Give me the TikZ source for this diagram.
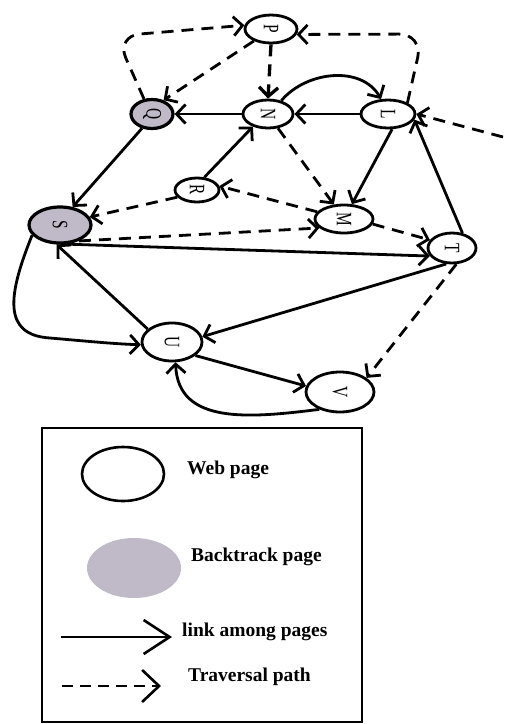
\documentclass[tikz,border=0pt]{standalone}
\usepackage{fontspec}
\setmainfont{Liberation Serif}
\usetikzlibrary{shapes.geometric,arrows.meta}
\definecolor{bkgray}{RGB}{192,186,200}
% page letters are set sideways
\newcommand{\vlab}[1]{\rotatebox{-90}{\scalebox{0.7}[1]{\fontsize{22}{22}\selectfont #1}}}
\tikzset{
  page/.style={ellipse, draw, line width=2.8pt, fill=white, inner sep=0pt},
  backpage/.style={page, fill=bkgray, line width=3.2pt},
  link/.style={line width=2.8pt, -{Straight Barb[length=9pt,width=19pt]}},
  trav/.style={link, dash pattern=on 12pt off 8pt},
  legtext/.style={anchor=west, inner sep=0pt, font=\fontsize{19.5}{22}\selectfont\bfseries}
}
\begin{document}
\begin{tikzpicture}[x=1pt,y=1pt]
\useasboundingbox (0,0) rectangle (505,-724);

% pages
\node[page, minimum width=52, minimum height=28] (P) at (271,-29) {\vlab{P}};
\node[page, minimum width=50, minimum height=28] (N) at (268,-114) {\vlab{N}};
\node[page, minimum width=54, minimum height=28] (L) at (388,-114) {\vlab{L}};
\node[backpage, minimum width=42, minimum height=29] (Q) at (152,-114) {\vlab{Q}};
\node[page, minimum width=44, minimum height=24] (R) at (197,-190) {\vlab{R}};
\node[backpage, minimum width=62, minimum height=36] (S) at (60,-225) {\vlab{S}};
\node[page, minimum width=58, minimum height=28] (M) at (344,-219) {\vlab{M}};
\node[page, minimum width=48, minimum height=30] (T) at (452,-248) {\vlab{T}};
\node[page, minimum width=60, minimum height=38] (U) at (172,-342) {\vlab{U}};
\node[page, minimum width=68, minimum height=40] (V) at (340,-392) {\vlab{V}};
\coordinate (far) at (503,-137);

% traversal path
\draw[trav, rounded corners=24pt] (Q.118) -- (116,-36) -- (P.172);
\draw[trav] (P.215) -- (Q.50);
\draw[trav, line width=3.3pt] (P.south) -- (N.north);
\draw[trav, rounded corners=24pt] (L.30) -- (423,-34) -- (P.-12);
\draw[trav] (far) -- (L.east);
\draw[trav] (N.-55) -- (M.125);
\draw[trav] (R.200) -- (S.15);
\draw[trav] (M.165) -- (R.10);
\draw[trav] (S.-40) -- (M.200);
\draw[trav] (M.-10) -- (T.160);
\draw[trav] (T.-75) -- (V.28);

% links among pages
\draw[link] (L) -- (N);
\draw[link] (N.45) to[out=50,in=120] (L.115);
\draw[link] (N) -- (Q);
\draw[link] (R.60) -- (N.220);
\draw[link] (L.-75) -- (M.62);
\draw[link] (T.55) -- (L.-12);
\draw[link] (Q.-125) -- (S.55);
\draw[link] (S.-70) -- (T.200);
\draw[link] (U.152) -- (S.-100);
\draw[link] (T.-110) -- (U.10);
\draw[link] (S.200) .. controls (8,-295) and (2,-335) .. (50,-338) .. controls (85,-341) and (115,-344) .. (U.185);
\draw[link] (U.-30) -- (V.170);
\draw[link] (V.220) .. controls (250,-418) and (178,-425) .. (U.-80);

% legend
\draw[line width=2.8pt] (42,-428) rectangle (362,-722);
\node[ellipse, draw, line width=2.6pt, minimum width=82, minimum height=54, inner sep=0pt] (lweb) at (123,-474) {};
\node[legtext] (tweb) at (187,-470) {Web page};
\node[ellipse, fill=bkgray, minimum width=94, minimum height=60, inner sep=0pt] (lback) at (134,-568) {};
\node[legtext] (tback) at (191,-557) {Backtrack page};
\coordinate (la) at (61,-637);
\coordinate (lb) at (172,-637);
\draw[line width=2.6pt, -{Straight Barb[length=26pt,width=34pt]}] (la) -- (lb);
\node[legtext] (tlink) at (182,-632) {link among pages};
\coordinate (da) at (62,-686);
\coordinate (db) at (161,-686);
\draw[line width=2.6pt, dash pattern=on 11pt off 7pt, -{Straight Barb[length=17pt,width=32pt]}] (da) -- (db);
\node[legtext] (ttrav) at (188,-677) {Traversal path};
\end{tikzpicture}
\end{document}
